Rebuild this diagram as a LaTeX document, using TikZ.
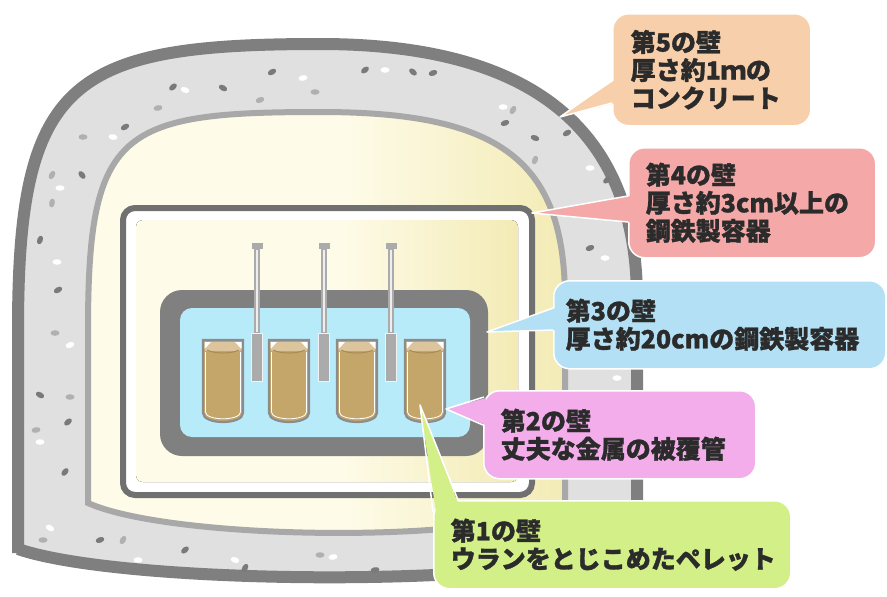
\documentclass[tikz,border=0pt]{standalone}
\usepackage{fontspec}
\newfontfamily\jpfont{Noto Sans CJK JP}[BoldFeatures={FakeBold=1.2}]
\usetikzlibrary{calc,positioning}

\definecolor{concreteedge}{HTML}{7F7F7F}
\definecolor{concrete}{HTML}{E0E0E0}
\definecolor{concreteline}{HTML}{A8A8A8}
\definecolor{speckdark}{HTML}{7A7A7A}
\definecolor{specklight}{HTML}{B0B0B0}
\definecolor{creamleft}{HTML}{FEFBE8}
\definecolor{creamright}{HTML}{F3EBB5}
\definecolor{steeledge}{HTML}{707070}
\definecolor{vesselgray}{HTML}{808080}
\definecolor{water}{HTML}{B8EBFA}
\definecolor{rodgray}{HTML}{ABABAB}
\definecolor{pelletfill}{HTML}{C4A66A}
\definecolor{pellettop}{HTML}{DCC59C}
\definecolor{pelletline}{HTML}{A88C55}
\definecolor{pelletedge}{HTML}{8C8C8C}
\definecolor{notetext}{HTML}{2B2B2B}
\definecolor{note5}{HTML}{F8CFAB}
\definecolor{note4}{HTML}{F4A9A8}
\definecolor{note3}{HTML}{B3E0F4}
\definecolor{note2}{HTML}{F2ADEA}
\definecolor{note1}{HTML}{D3EF88}

% pale cream that turns yellow only towards the right
\pgfdeclarehorizontalshading{cream}{100bp}{color(0bp)=(creamleft);
    color(52bp)=(creamleft); color(75bp)=(creamright); color(100bp)=(creamright)}

\tikzset{
    wallnote/.style={rounded corners=16pt, draw=white, line width=1.5pt,
        anchor=north west, align=left, inner ysep=0pt, text=notetext,
        font=\jpfont\bfseries\fontsize{25pt}{28pt}\selectfont},
    pointer/.style={draw=white, line width=1.5pt, line join=round}
}

\begin{document}
\begin{tikzpicture}[x=1pt, y=-1pt]
    \useasboundingbox (0, 0) rectangle (887, 597);

    % concrete dome
    \filldraw[fill=concrete, draw=concreteedge, line width=12pt]
    (18, 553) -- (18, 330)
    .. controls (18, 80) and (70, 44) .. (320, 44)
    .. controls (520, 44) and (637, 120) .. (637, 300)
    -- (637, 550)
    .. controls (500, 589) and (120, 584) .. (18, 549) -- cycle;

    % specks in the concrete
    \foreach \sx/\sy/\sc/\sr in {
        272/72/speckdark/30, 185/90/white/-20, 173/87/speckdark/40,
        223/88/speckdark/-30, 303/78/white/10, 315/92/specklight/0,
        260/100/specklight/20, 365/70/speckdark/35, 385/70/white/0,
        413/72/speckdark/-40, 433/73/speckdark/20, 158/108/specklight/10,
        125/127/speckdark/30, 113/137/white/-10, 83/137/specklight/0,
        153/133/specklight/20, 52/175/specklight/60, 60/188/white/0,
        82/175/speckdark/-50, 52/203/specklight/80, 40/240/speckdark/70,
        57/262/white/0, 58/290/speckdark/30, 55/333/specklight/0,
        70/345/white/20, 40/395/speckdark/-30, 70/397/specklight/0,
        68/422/speckdark/40, 36/430/specklight/10, 40/442/white/0,
        65/472/speckdark/50, 50/528/white/-30, 43/540/specklight/0,
        100/540/speckdark/20, 123/540/specklight/60, 138/560/white/0,
        185/550/speckdark/40, 235/560/white/-20, 245/568/speckdark/60,
        320/555/specklight/0, 333/557/white/10, 375/570/speckdark/10,
        503/107/white/0, 513/110/specklight/60, 505/123/speckdark/20,
        535/138/speckdark/-20, 567/133/speckdark/30, 535/160/specklight/70,
        590/168/white/0, 607/180/speckdark/40, 590/248/speckdark/20,
        605/258/white/0, 617/378/white/0
    }
        \fill[\sc, rotate around={\sr:(\sx, \sy)}]
        (\sx, \sy) ellipse [x radius=4.5pt, y radius=2.8pt];

    % space inside the concrete
    \filldraw[shading=cream, draw=concreteline, line width=6pt]
    (88, 503) -- (88, 330)
    .. controls (88, 130) and (120, 112) .. (320, 112)
    .. controls (500, 112) and (565, 160) .. (565, 300)
    -- (565, 505)
    .. controls (480, 545) and (170, 540) .. (88, 503) -- cycle;

    % steel vessel (4th wall)
    \filldraw[fill=white, draw=steeledge, line width=6pt, rounded corners=12pt]
    (123, 208) rectangle (532, 495);
    \fill[shading=cream, rounded corners=7pt]
    (136, 220) rectangle (518, 482);

    % pressure vessel (3rd wall) and water
    \fill[vesselgray, rounded corners=22pt] (160, 290) rectangle (488, 456);
    \fill[water, rounded corners=12pt] (180, 308) rectangle (470, 437);

    % control rods
    \foreach \rx in {257, 324, 391} {
        \fill[rodgray] (\rx - 5.5, 243) rectangle (\rx + 5.5, 249);
        \filldraw[fill=white!80!rodgray, draw=rodgray, line width=1.4pt]
        (\rx - 2, 249) rectangle (\rx + 2, 333);
        \filldraw[fill=rodgray, draw=white!85!rodgray, line width=1pt]
        (\rx - 5.5, 333) rectangle (\rx + 5.5, 381);
    }

    % fuel rods with pellets
    \foreach \px in {223, 289, 357, 425} {
        \filldraw[fill=pelletfill, draw=pelletedge, line width=2.2pt]
        (\px - 20, 340) -- (\px - 20, 413)
        .. controls (\px - 20, 425) and (\px + 20, 425) .. (\px + 20, 413)
        -- (\px + 20, 340) -- cycle;
        \fill[pellettop] (\px - 18, 342) rectangle (\px + 18, 351);
        \draw[pelletline, line width=1pt]
        (\px - 16, 350) .. controls (\px - 8, 354) and (\px + 8, 354) .. (\px + 16, 350);
        \fill[white] (\px - 18.5, 342) -- (\px - 12, 342) -- (\px - 18.5, 349) -- cycle;
        \fill[white] (\px + 18.5, 342) -- (\px + 12, 342) -- (\px + 18.5, 349) -- cycle;
        \draw[white, line width=0.8pt]
        (\px - 17.5, 352) -- (\px - 17.5, 412)
        .. controls (\px - 17.5, 421) and (\px + 17.5, 421) .. (\px + 17.5, 412)
        -- (\px + 17.5, 352);
    }

    % ends of the pointers
    \coordinate (tip5) at (560, 117);
    \coordinate (tip4) at (532, 213);
    \coordinate (tip3) at (487, 332);
    \coordinate (tip2) at (446, 409);
    \coordinate (pellet4) at (420, 405);

    % the five walls
    \node[wallnote, fill=note5, minimum width=198pt, minimum height=112pt,
        inner xsep=18pt, text width=162pt] (wall5) at (612, 13)
        {第5の壁\\厚さ約1ｍの\\コンクリート};
    \fill[note5] ($(wall5.north west)+(3, 67)$) -- (tip5) -- ($(wall5.north west)+(3, 90)$) -- cycle;
    \draw[pointer] ($(wall5.north west)+(0, 67)$) -- (tip5) -- ($(wall5.north west)+(0, 90)$);

    \node[wallnote, fill=note4, minimum width=247pt, minimum height=110pt,
        inner xsep=17pt, text width=213pt] (wall4) at (628, 147)
        {第4の壁\\厚さ約3cm以上の\\鋼鉄製容器};
    \fill[note4] ($(wall4.north west)+(3, 49)$) -- (tip4) -- ($(wall4.north west)+(3, 75)$) -- cycle;
    \draw[pointer] ($(wall4.north west)+(0, 49)$) -- (tip4) -- ($(wall4.north west)+(0, 75)$);

    \node[wallnote, fill=note3, minimum width=332pt, minimum height=88pt,
        inner xsep=12pt, text width=308pt] (wall3) at (553, 280)
        {第3の壁\\厚さ約20cmの鋼鉄製容器};
    \fill[note3] ($(wall3.north west)+(3, 28)$) -- (tip3) -- ($(wall3.north west)+(3, 50)$) -- cycle;
    \draw[pointer] ($(wall3.north west)+(0, 28)$) -- (tip3) -- ($(wall3.north west)+(0, 50)$);

    \node[wallnote, fill=note2, minimum width=272pt, minimum height=88pt,
        inner xsep=17pt, text width=238pt] (wall2) at (483, 390)
        {第2の壁\\丈夫な金属の被覆管};
    \fill[note2] ($(wall2.north west)+(3, 8)$) -- (tip2) -- ($(wall2.north west)+(3, 35)$) -- cycle;
    \draw[pointer] ($(wall2.north west)+(1, 7)$) -- (tip2) -- ($(wall2.north west)+(0, 35)$);

    \node[wallnote, fill=note1, minimum width=357pt, minimum height=88pt,
        inner xsep=17pt, text width=323pt] (wall1) at (433, 500)
        {第1の壁\\ウランをとじこめたペレット};
    \fill[note1] ($(wall1.north west)+(3, 12)$) -- (pellet4) -- ($(wall1.north west)+(25, 3)$) -- cycle;
    \draw[pointer] ($(wall1.north west)+(0, 12)$) -- (pellet4) -- ($(wall1.north west)+(25, 0)$);
\end{tikzpicture}
\end{document}
